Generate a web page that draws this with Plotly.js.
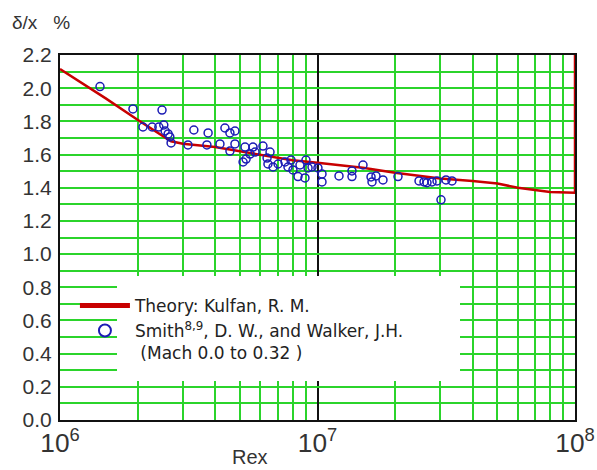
<!DOCTYPE html>
<html><head><meta charset="utf-8">
<script src="https://cdn.plot.ly/plotly-3.0.1.min.js"></script>
<style>html,body{margin:0;padding:0;background:#fff}#chart{width:597px;height:470px}</style>
</head><body><div id="chart"></div>
<script>
// Theory: Kulfan, R. M.  (Rex, delta/x %)
const theoryRe = [1e6, 1.5e6, 2e6, 2.7e6, 3e6, 4e6, 5e6, 6e6, 8e6, 1e7, 1.5e7, 2e7, 3e7, 4e7, 5e7, 6e7, 8e7, 1e8, 1e8];
const theoryDelta = [2.115, 1.94, 1.81, 1.68, 1.665, 1.645, 1.62, 1.60, 1.565, 1.55, 1.52, 1.49, 1.455, 1.44, 1.425, 1.40, 1.375, 1.37, 2.2];

// Smith & Walker data (Mach 0.0 to 0.32)
const smithRe = [1.43e6, 1.92e6, 2.49e6, 2.10e6, 2.28e6, 2.42e6, 2.53e6, 2.56e6, 2.63e6, 2.67e6, 2.70e6,
  3.31e6, 3.14e6, 3.76e6, 3.72e6, 4.37e6, 4.57e6, 4.78e6, 4.18e6, 4.57e6, 4.78e6,
  5.23e6, 5.62e6, 5.47e6, 5.72e6, 5.14e6, 5.28e6,
  6.14e6, 6.54e6, 6.37e6, 6.42e6, 6.72e6, 7.03e6, 7.48e6, 7.89e6, 7.68e6, 8.03e6, 8.55e6, 8.40e6, 9.02e6, 8.94e6, 9.19e6, 9.52e6,
  1.004e7, 1.041e7, 1.041e7, 1.212e7, 1.361e7, 1.361e7, 1.502e7, 1.614e7, 1.628e7, 1.687e7, 1.796e7, 2.054e7,
  2.479e7, 2.592e7, 2.662e7, 2.784e7, 2.911e7, 3.155e7, 3.329e7, 3.017e7];
const smithDelta = [2.01, 1.875, 1.868, 1.766, 1.766, 1.766, 1.778, 1.742, 1.724, 1.706, 1.670,
  1.748, 1.658, 1.730, 1.658, 1.760, 1.730, 1.742, 1.664, 1.621, 1.664,
  1.645, 1.645, 1.603, 1.615, 1.555, 1.573,
  1.651, 1.615, 1.579, 1.543, 1.525, 1.543, 1.555, 1.567, 1.525, 1.507, 1.537, 1.467, 1.567, 1.459, 1.519, 1.525,
  1.519, 1.483, 1.435, 1.471, 1.501, 1.467, 1.537, 1.465, 1.435, 1.471, 1.447, 1.467,
  1.441, 1.435, 1.430, 1.435, 1.441, 1.447, 1.441, 1.327];

const legendTheory = 'Theory: Kulfan, R. M.';
const legendSmith = 'Smith<sup>8,9</sup>, D. W., and Walker, J.H.<br>&nbsp;(Mach 0.0 to 0.32 )';
const yTitle = '\u03b4/x&nbsp;&nbsp;&nbsp;%';
const xTitle = 'Rex';

const green = '#2bd42b';
const font = '"Liberation Sans", Arial, sans-serif';
const legendFont = '"DejaVu Sans", Verdana, sans-serif';

const traces = [
  {x: theoryRe, y: theoryDelta, type: 'scatter', mode: 'lines', name: legendTheory,
   line: {color: '#c80000', width: 2.5}, cliponaxis: false},
  {x: smithRe, y: smithDelta, type: 'scatter', mode: 'markers', name: legendSmith,
   marker: {symbol: 'circle-open', size: 8, color: '#1c1cb4', line: {width: 1.5, color: '#1c1cb4'}}}
];

const layout = {
  width: 597, height: 470,
  margin: {l: 60, r: 22, t: 55, b: 50},
  paper_bgcolor: '#fff', plot_bgcolor: '#fff',
  font: {family: font, color: '#333'},
  showlegend: true,
  legend: {x: 0.029, y: 0.362, xanchor: 'left', yanchor: 'top', bgcolor: 'rgba(0,0,0,0)',
           font: {size: 17, color: '#222', family: legendFont}, itemwidth: 50, itemsizing: 'constant',
           valign: 'top', tracegroupgap: 0},
  xaxis: {type: 'log', range: [6, 8], dtick: 1, exponentformat: 'power',
          showgrid: true, gridcolor: '#111', gridwidth: 2,
          minor: {dtick: 'D1', showgrid: true, gridcolor: green, gridwidth: 2},
          showline: true, linecolor: '#111', linewidth: 2, mirror: true,
          ticks: '', tickfont: {size: 21, color: '#333'}, zeroline: false},
  yaxis: {range: [0, 2.2], dtick: 0.2, tick0: 0, tickformat: '.1f',
          showgrid: true, gridcolor: green, gridwidth: 2,
          minor: {dtick: 0.1, showgrid: true, gridcolor: green, gridwidth: 2},
          showline: true, linecolor: '#111', linewidth: 2, mirror: true,
          ticks: '', ticklabelstandoff: 2, tickfont: {size: 21, color: '#333'}, zeroline: false},
  shapes: [
    {type: 'rect', xref: 'paper', yref: 'paper', x0: 0.1107, x1: 0.7767, y0: 0.1068, y1: 0.3945,
     fillcolor: '#fff', line: {width: 0}, layer: 'above'}
  ],
  annotations: [
    {text: yTitle, xref: 'paper', yref: 'paper', x: -0.097, y: 1.09, xanchor: 'left', yanchor: 'middle',
     showarrow: false, font: {size: 19, color: '#333'}},
    {text: xTitle, xref: 'paper', yref: 'paper', x: 0.369, y: -0.1, xanchor: 'center', yanchor: 'middle',
     showarrow: false, font: {size: 20, color: '#333'}}
  ]
};

Plotly.newPlot('chart', traces, layout, {displayModeBar: false, staticPlot: true});
</script>
</body></html>
